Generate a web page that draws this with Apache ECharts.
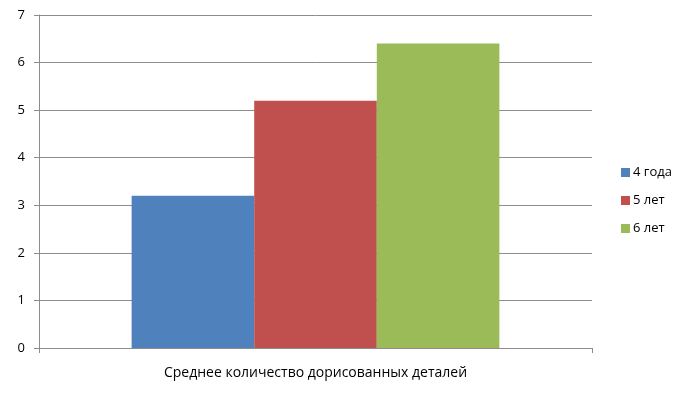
<!DOCTYPE html>
<html><head><meta charset="utf-8">
<script src="https://cdn.jsdelivr.net/npm/echarts@6/dist/echarts.min.js"></script>
<style>html,body{margin:0;padding:0;background:#fff}#c{width:681px;height:397px}</style>
</head><body><div id="c"></div>
<script>
const categories = ["Среднее количество дорисованных деталей"];
const seriesNames = ["4 года", "5 лет", "6 лет"];
const values4 = [3.2];
const values5 = [5.2];
const values6 = [6.4];
const colors = ["#4F81BD", "#C0504D", "#9BBB59"];
const font = "'Open Sans', 'Noto Sans', sans-serif";
const chart = echarts.init(document.getElementById('c'));
const data = [values4, values5, values6];
chart.setOption({
  animation: false,
  textStyle: {fontFamily: font},
  grid: {left: 39, right: 89, top: 15, height: 333},
  legend: {
    orient: 'vertical', left: 616, top: 161,
    itemWidth: 9, itemHeight: 9, itemGap: 15,
    icon: 'rect',
    textStyle: {fontSize: 13, color: '#000', fontFamily: font, padding: [0,0,0,-2]},
    data: seriesNames
  },
  xAxis: {
    type: 'category', data: categories,
    axisLine: {lineStyle: {color: '#8c8c8c', width: 1}},
    axisTick: {show: true, alignWithLabel: false, length: 5, lineStyle: {color: '#8c8c8c'}},
    axisLabel: {fontSize: 14, color: '#000', margin: 18, fontFamily: font}
  },
  yAxis: {
    type: 'value', min: 0, max: 7, interval: 1,
    axisLine: {show: true, lineStyle: {color: '#8c8c8c'}},
    axisTick: {show: true, length: 5, lineStyle: {color: '#8c8c8c'}},
    axisLabel: {fontSize: 13, color: '#000', margin: 14, fontFamily: font},
    splitLine: {lineStyle: {color: '#8c8c8c', width: 1}}
  },
  series: seriesNames.map((n, i) => ({
    name: n, type: 'bar', data: data[i],
    barGap: '0%', barCategoryGap: '33.5%',
    itemStyle: {color: colors[i]}
  }))
});
</script></body></html>
